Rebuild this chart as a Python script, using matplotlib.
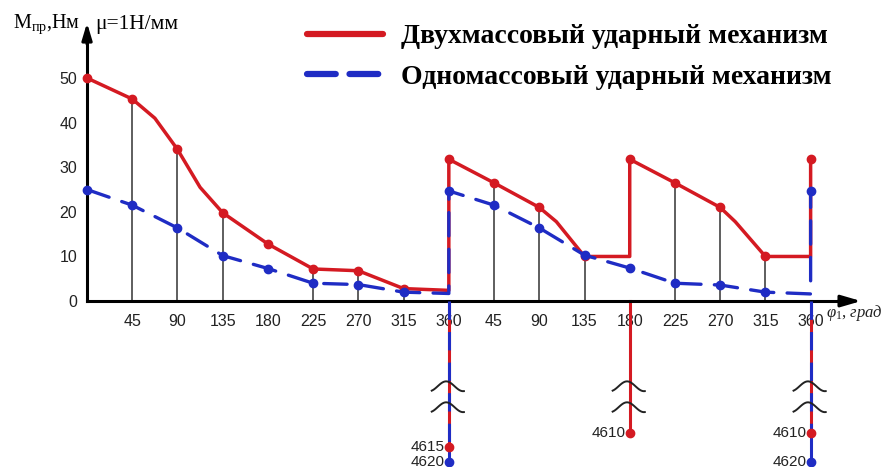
import numpy as np
import matplotlib
matplotlib.use('Agg')
import matplotlib.pyplot as plt
from matplotlib.lines import Line2D

plt.rcParams['mathtext.fontset'] = 'custom'
plt.rcParams['mathtext.rm'] = 'Liberation Serif'
plt.rcParams['mathtext.it'] = 'Liberation Serif:italic'

# angle along the x axis, degrees (three strokes laid end to end)
red_x = [0, 45, 67.5, 90, 112.5, 135, 180, 225, 270, 315, 360,
         360, 405, 450, 467, 495, 540,
         540, 585, 630, 645, 675, 720, 720]
red_y = [50, 45.3, 41, 34, 25.5, 19.8, 12.8, 7.2, 6.8, 2.8, 2.4,
         31.8, 26.5, 21, 17.8, 10, 10,
         31.8, 26.5, 21, 17.8, 10, 10, 31.8]
red_marks = [0, 1, 3, 5, 6, 7, 8, 9, 11, 12, 13, 15, 17, 18, 19, 21, 23]

blue_x = [0, 45, 90, 135, 180, 225, 270, 315, 360,
          360, 405, 450, 495, 540, 585, 630, 675, 720, 720]
blue_y = [25, 21.5, 16.4, 10.2, 7.3, 4, 3.7, 2, 1.7,
          24.7, 21.5, 16.4, 10.3, 7.4, 4, 3.6, 2, 1.6, 24.7]
blue_marks = [0, 1, 2, 3, 4, 5, 6, 7, 9, 10, 11, 12, 13, 14, 15, 16, 18]

# values at the bottom of the broken verticals
tail_x = [360, 540, 720]
tail_red = [4615, 4610, 4610]
tail_blue = [4620, None, 4620]

xtick_pos = list(range(45, 721, 45))
xtick_lab = ['45', '90', '135', '180', '225', '270', '315', '360'] * 2
ytick_pos = [0, 10, 20, 30, 40, 50]

RED = '#d41a22'
BLUE = '#1f2cc4'


def brk(v):
    # compress the far negative values under the axis break
    return -23 - (v - 4600) * 0.65


fig = plt.figure(figsize=(8.86, 4.67), dpi=100)
ax = fig.add_axes([0, 0, 1, 1])
ax.set_xlim(-86.6, 795)
ax.set_ylim(-37.2, 67.5)
ax.patch.set_alpha(0)

for s in ['top', 'right']:
    ax.spines[s].set_visible(False)
ax.spines['left'].set_position(('data', 0))
ax.spines['bottom'].set_position(('data', 0))
ax.spines['left'].set_bounds(0, 60)
ax.spines['bottom'].set_bounds(0, 760)
ax.spines['left'].set_linewidth(2.2)
ax.spines['bottom'].set_linewidth(2.2)
ax.annotate('', xy=(773, 0), xytext=(745, 0),
            arrowprops=dict(arrowstyle='-|>,head_length=1.2,head_width=0.35', color='black', lw=2.2))
ax.annotate('', xy=(0, 63), xytext=(0, 57),
            arrowprops=dict(arrowstyle='-|>,head_length=1.0,head_width=0.3', color='black', lw=2.2))

tick_font = 'Liberation Sans'
ax.set_xticks(xtick_pos)
ax.set_xticklabels(xtick_lab, family=tick_font, fontsize=11.5, color='#222222')
ax.set_yticks(ytick_pos)
ax.set_yticklabels([str(v) for v in ytick_pos], family=tick_font, fontsize=11.5, color='#222222')
ax.tick_params(axis='x', length=0, pad=9)
ax.tick_params(axis='y', length=0, pad=7)

# drop lines from the red curve to the axis
drop_idx = [i for i in red_marks if red_x[i] % 180 != 0]
ax.vlines([red_x[i] for i in drop_idx], 0, [red_y[i] for i in drop_idx],
          color='#333333', lw=1.1, zorder=1)

# broken verticals below the axis
t = np.linspace(0, 1, 40)
for x, r, b in zip(tail_x, tail_red, tail_blue):
    ax.plot([x, x], [0, brk(r)], color=RED, lw=2.2, zorder=2)
    ax.plot([x], [brk(r)], 'o', color=RED, ms=6, zorder=4)
    ax.text(x - 4, brk(r), str(r), ha='right', va='center', family=tick_font,
            fontsize=11, color='#222222')
    if b is not None:
        ax.plot([x, x], [0, brk(r)], color=BLUE, lw=2.2, dashes=(6, 4), zorder=3)
        ax.plot([x, x], [brk(r), brk(b)], color=BLUE, lw=2.2, zorder=3)
        ax.plot([x], [brk(b)], 'o', color=BLUE, ms=6, zorder=4)
        ax.text(x - 4, brk(b), str(b), ha='right', va='center', family=tick_font,
                fontsize=11, color='#222222')
    for yb in [-19.1, -23.8]:
        ax.plot(x - 17 + 32 * t, yb + 1.1 * np.sin(np.pi * (1.9 * t - 0.35)),
                color='#222222', lw=1.4, zorder=5)

ax.plot(red_x, red_y, color=RED, lw=2.5, marker='o', ms=6, markevery=red_marks,
        zorder=3, solid_joinstyle='round')
ax.plot(blue_x, blue_y, color=BLUE, lw=2.4, marker='o', ms=6, markevery=blue_marks,
        dashes=(7, 4), zorder=4, dash_capstyle='round')

# axis captions
ax.text(-7, 62, r'M$_{\mathrm{пр}}$,Нм', ha='right', va='center',
        family='Liberation Serif', fontsize=14.5)
ax.text(8, 62, 'μ=1Н/мм', ha='left', va='center', family='Liberation Serif', fontsize=15.5)
ax.text(735, -2.6, r'$\varphi_1$, $град$', ha='left', va='center',
        family='Liberation Serif', fontsize=12, color='#222222')

handles = [Line2D([], [], color=RED, lw=4.5, solid_capstyle='round'),
           Line2D([], [], color=BLUE, lw=4.5, dashes=(4.6, 2.2), dash_capstyle='round')]
labels = ['Двухмассовый ударный механизм', 'Одномассовый ударный механизм']
fig.legend(handles, labels, loc='upper left', bbox_to_anchor=(0.3465, 0.949),
           frameon=False, borderpad=0, borderaxespad=0, handlelength=2.75,
           handletextpad=0.65, labelspacing=0.55,
           prop=dict(family='Liberation Serif', weight='bold', size=20))

fig.savefig('out.png', dpi=100)
